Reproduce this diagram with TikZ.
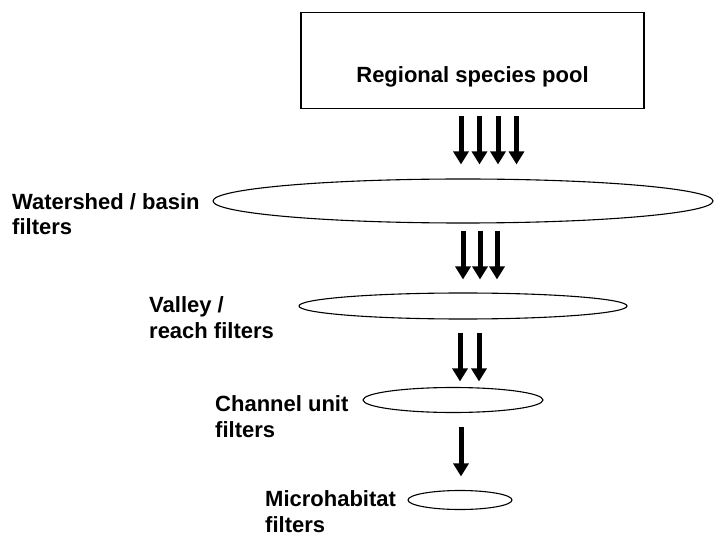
\documentclass[tikz,border=0pt]{standalone}
\usepackage{fontspec}
\setmainfont{Liberation Sans}
\usepackage{tikz}
\usetikzlibrary{shapes.geometric, arrows.meta, positioning, calc}

\begin{document}
\begin{tikzpicture}[
    x=1pt, y=-1pt,
    font=\fontsize{22}{25.5}\selectfont\bfseries,
    pool/.style={rectangle, draw, line width=1.2pt, minimum width=343pt, minimum height=96pt, inner sep=0pt, text height=45pt, text depth=0pt},
    filter/.style={ellipse, draw, line width=1.1pt, inner sep=0pt},
    lbl/.style={anchor=base west, align=left, inner sep=0pt},
    flow/.style={-{Triangle[width=15pt, length=13pt]}, line width=5pt}
]
\useasboundingbox (0,0) rectangle (714,534);

% Species pool
\node[pool] (pool) at (472.5,60.5) {Regional species pool};

% Filter levels
\node[filter, minimum width=500pt, minimum height=44pt] (shed) at (463,201) {};
\node[filter, minimum width=328pt, minimum height=26pt] (valley) at (463,306) {};
\node[filter, minimum width=180pt, minimum height=25pt] (channel) at (453,400) {};
\node[filter, minimum width=104pt, minimum height=19pt] (micro) at (460,500) {};

% Level names (base = last line)
\node[lbl] (shedtxt) at (12,235) {Watershed / basin\\filters};
\node[lbl] (valleytxt) at (149,338) {Valley /\\reach filters};
\node[lbl] (channeltxt) at (215,437) {Channel unit\\filters};
\node[lbl] (microtxt) at (265,532) {Microhabitat\\filters};

% Arrows between levels
\foreach \x in {461,479.5,498,516.5}
  \draw[flow, shorten <=7pt, shorten >=14pt] (pool.south -| \x,0) -- (shed.north -| \x,0);
\foreach \x in {463,480,497}
  \draw[flow, shorten <=7pt, shorten >=13pt] (shed.south -| \x,0) -- (valley.north -| \x,0);
\foreach \x in {460,479}
  \draw[flow, shorten <=13pt, shorten >=5.5pt] (valley.south -| \x,0) -- (channel.north -| \x,0);
\draw[flow, shorten <=14pt, shorten >=13.5pt] (channel.south -| 461,0) -- (micro.north -| 461,0);

\end{tikzpicture}
\end{document}
